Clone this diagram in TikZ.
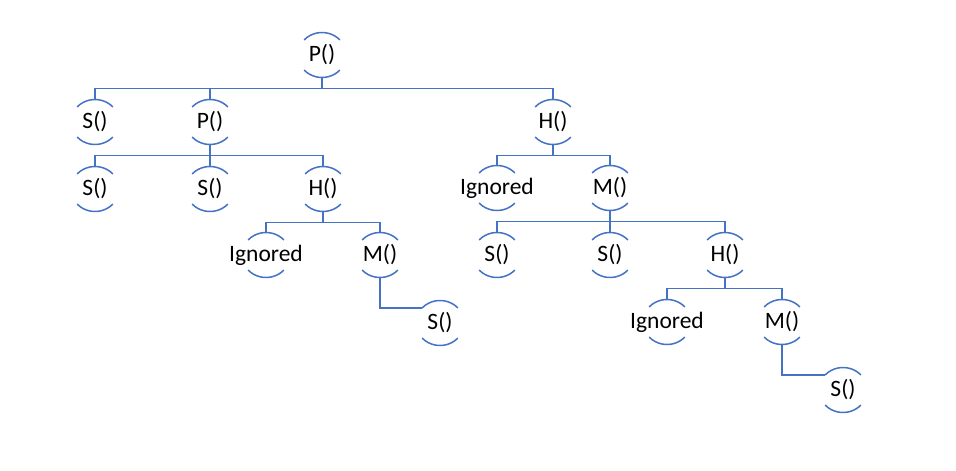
\documentclass[tikz,border=0pt]{standalone}
\usepackage{fontspec}
\setmainfont{Carlito}

\definecolor{linecolor}{rgb}{0.267, 0.447, 0.769}

\tikzset{
  call/.style={inner sep=0pt, font=\fontsize{23.5}{28}\selectfont},
  conn/.style={draw=linecolor, line width=1.5pt},
  arcline/.style={draw=linecolor, line width=1.5pt}
}

\begin{document}
\begin{tikzpicture}[x=1pt, y=1pt]
\useasboundingbox (0,0) rectangle (956,-471);
% calls
\node[call] (P0) at (322,-55) {P()};
\node[call] (S1) at (95,-122) {S()};
\node[call] (P1) at (210,-122) {P()};
\node[call] (H1) at (553,-122) {H()};
\node[call] (S2) at (95,-189) {S()};
\node[call] (S3) at (210,-189) {S()};
\node[call] (H2) at (323,-189) {H()};
\node[call] (I1) at (266,-255) {Ignored};
\node[call] (M1) at (380,-255) {M()};
\node[call] (S4) at (440,-323) {S()};
\node[call] (I2) at (497,-188) {Ignored};
\node[call] (M2) at (610,-188) {M()};
\node[call] (S5) at (497,-255) {S()};
\node[call] (S6) at (610,-255) {S()};
\node[call] (H3) at (725,-255) {H()};
\node[call] (I3) at (667,-322) {Ignored};
\node[call] (M3) at (782,-322) {M()};
\node[call] (S7) at (843,-390) {S()};
% arcs above and below each call
\foreach \n in {P0,S1,P1,H1,S2,S3,H2,I1,M1,S4,I2,M2,S5,S6,H3,I3,M3,S7}{
  \draw[arcline] ([shift={(42:24 and 22.5)}]\n.center) arc[start angle=42, end angle=138, x radius=24, y radius=22.5];
  \draw[arcline] ([shift={(-42:24 and 22.5)}]\n.center) arc[start angle=-42, end angle=-138, x radius=24, y radius=22.5];
}
% tree connectors
\foreach \p/\c in {P0/S1,P0/P1,P0/H1,P1/S2,P1/S3,P1/H2,H2/I1,H2/M1,
                   H1/I2,H1/M2,M2/S5,M2/S6,M2/H3,H3/I3,H3/M3}{
  \draw[conn] ([yshift=-22.5]\p.center) -- ++(0,-11) -| ([yshift=22.5]\c.center);
}
\draw[conn] ([yshift=-22.5]M1.center) |- ([shift={(138:24 and 22.5)}]S4.center);
\draw[conn] ([yshift=-22.5]M3.center) |- ([shift={(138:24 and 22.5)}]S7.center);
\end{tikzpicture}
\end{document}
